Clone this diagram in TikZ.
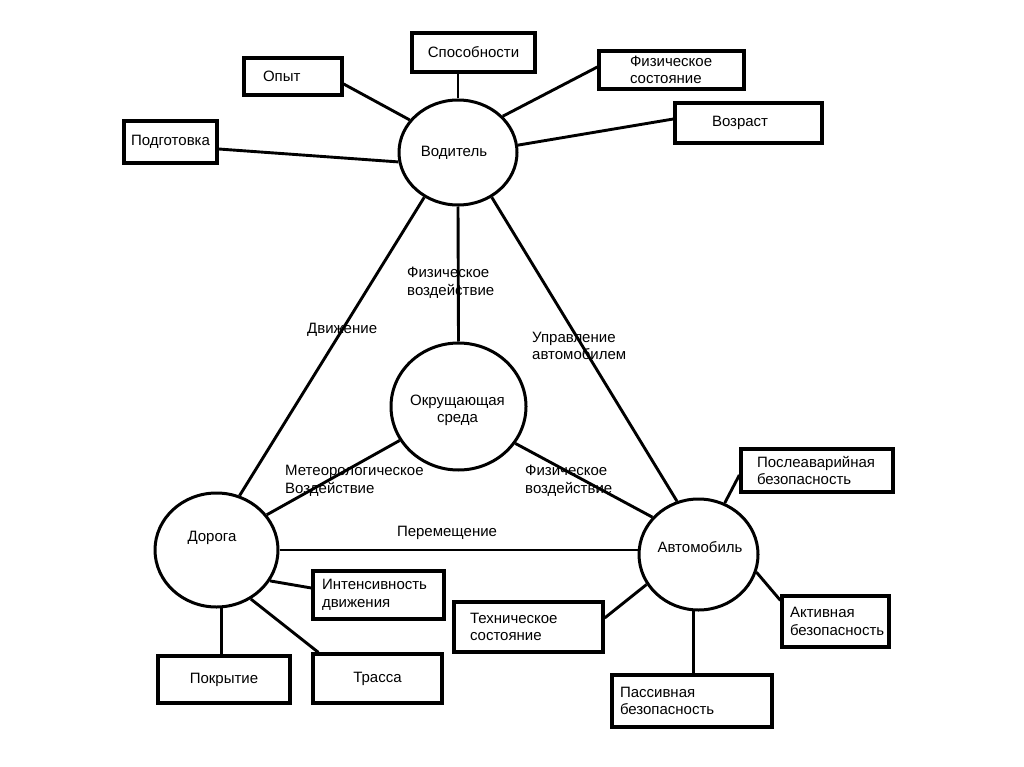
\documentclass[tikz,border=0pt]{standalone}
\usepackage{fontspec}
\setmainfont{Liberation Sans}
\usetikzlibrary{shapes.geometric}
\begin{document}
\begin{tikzpicture}[x=1pt,y=-1pt,
  every node/.style={font=\fontsize{15}{17.5}\selectfont, inner sep=0pt},
  circ/.style={draw, ellipse, line width=3pt, fill=white},
  box/.style={draw, rectangle, line width=3.3pt, inner sep=0pt},
  lbox/.style={box, align=left},
  txt/.style={align=left},
  conn/.style={line width=2.9pt}]
\useasboundingbox (0,0) rectangle (1024,767);
\fill[white] (0,0) rectangle (1024,767);

% circles
\node[circ, minimum width=118pt, minimum height=105pt] (vod) at (458,152.5) {};
\node[circ, minimum width=123pt, minimum height=114pt] (dor) at (216.5,550) {};
\node[circ, minimum width=119pt, minimum height=111pt] (avto) at (698.5,554.5) {};
\node[circ, minimum width=135pt, minimum height=127pt] (okr) at (458.5,406.5) {};

\node (vodT) at (454,153) {Водитель};
\node (dorT) at (212,538) {Дорога};
\node (avtoT) at (700,547) {Автомобиль};
\node[align=center] (okrT) at (457.5,410.5) {Окрущающая\\среда};

% boxes
\node[box, minimum width=123pt, minimum height=39pt] (spos) at (473.5,52.5) {Способности};
\node[lbox, minimum width=98pt, minimum height=37pt, inner xsep=19pt, text width=60pt] (opyt) at (293,76.5) {Опыт};
\node[box, minimum width=93pt, minimum height=42pt] (podg) at (170.5,142) {Подготовка};
\node[lbox, minimum width=145pt, minimum height=38pt, inner xsep=31pt, text width=83pt] (fiz) at (671.5,70) {Физическое\\состояние};
\node[lbox, minimum width=147pt, minimum height=40pt, inner xsep=37pt, text width=73pt] (voz) at (748.5,123) {Возраст};
\node[lbox, minimum width=131pt, minimum height=48pt, inner xsep=9pt, text width=113pt] (int) at (378.5,595) {Интенсивность\\движения};
\node[box, minimum width=132pt, minimum height=47pt] (pokr) at (224,679.5) {Покрытие};
\node[box, minimum width=129pt, minimum height=49pt] (tras) at (377.5,678.5) {Трасса};
\node[lbox, minimum width=152pt, minimum height=43pt, inner xsep=16pt, text width=120pt] (posl) at (817,470.5) {Послеаварийная\\безопасность};
\node[lbox, minimum width=107pt, minimum height=51pt, inner xsep=8pt, text width=91pt] (akt) at (835.5,621.5) {Активная\\безопасность};
\node[lbox, minimum width=149pt, minimum height=50pt, inner xsep=16pt, text width=117pt] (tech) at (528.5,627) {Техническое\\состояние};
\node[lbox, minimum width=160pt, minimum height=52pt, inner xsep=8pt, text width=144pt] (pass) at (692,701) {Пассивная\\безопасность};

% edge labels
\node[txt, anchor=west] (l1) at (407,283) {Физическое\\воздействие};
\node[txt, anchor=west] (l2) at (307,330) {Движение};
\node[txt, anchor=west] (l3) at (532,346) {Управление\\автомобилем};
\node[txt, anchor=west] (l4) at (285,481) {Метеорологическое\\Воздействие};
\node[txt, anchor=west] (l5) at (525,481) {Физическое\\воздействие};
\node (l6) at (447,533) {Перемещение};

% connectors
\draw[conn] (vod.north) -- (vod.north |- spos.south);
\draw[conn] (vod.146) -- ([yshift=-7.5pt]opyt.east);
\draw[conn] (vod.189) -- ([yshift=-7pt]podg.east);
\draw[conn] (vod.39) -- ([yshift=3pt]fiz.west);
\draw[conn] (vod.7) -- ([yshift=4pt]voz.west);
\draw[conn] (vod.233) -- (dor.67);
\draw[conn] (vod.307) -- (avto.112);
\draw[conn] (vod.south) -- (okr.north);
\draw[conn] (okr.210) -- (dor.35);
\draw[conn] (okr.327) -- (avto.141);
\draw[conn] (dor.east) -- (dor.east -| avto.west);
\draw[conn] (dor.330) -- ([yshift=7pt]int.west);
\draw[conn] (dor.275) -- (dor.275 |- pokr.north);
\draw[conn] (dor.305) -- ([xshift=7pt]tras.north west);
\draw[conn] (avto.63) -- ([yshift=-4.5pt]posl.west);
\draw[conn] (avto.343) -- ([yshift=-6pt]akt.north west);
\draw[conn] (avto.210) -- ([yshift=9pt]tech.east);
\draw[conn] (avto.265) -- (avto.265 |- pass.north);
\end{tikzpicture}
\end{document}
